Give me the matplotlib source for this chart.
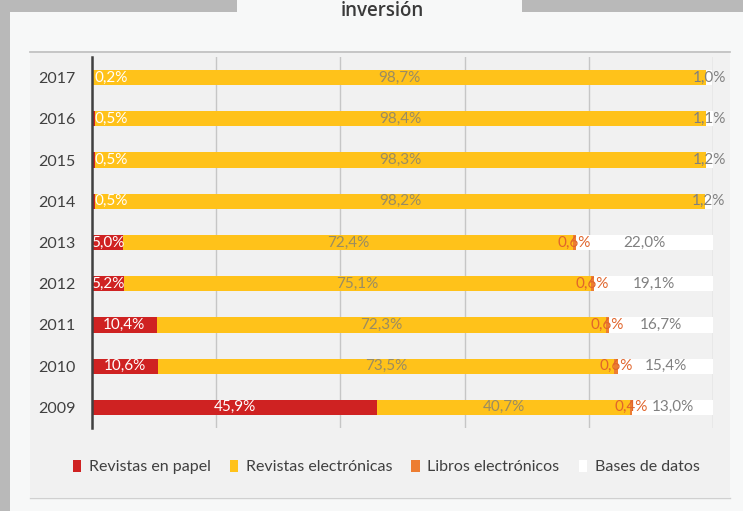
import matplotlib
matplotlib.use("Agg")
import matplotlib.pyplot as plt
from matplotlib.patches import Rectangle, Patch

# --------------------------------------------------
# Data
# --------------------------------------------------
years = ["2009", "2010", "2011", "2012", "2013", "2014", "2015", "2016", "2017"]
papel = [45.9, 10.6, 10.4, 5.2, 5.0, 0.5, 0.5, 0.5, 0.2]
revistas_elec = [40.7, 73.5, 72.3, 75.1, 72.4, 98.2, 98.3, 98.4, 98.7]
libros_elec = [0.4, 0.6, 0.6, 0.6, 0.6, 0.0, 0.0, 0.0, 0.0]
bases = [13.0, 15.4, 16.7, 19.1, 22.0, 1.2, 1.2, 1.1, 1.0]

series_names = ["Revistas en papel", "Revistas electrónicas",
                "Libros electrónicos", "Bases de datos"]
colors = ["#cf2222", "#ffc21a", "#ed7d31", "#ffffff"]
label_colors = ["#ffffff", "#9a8c62", "#e0652c", "#808080"]

plt.rcParams["font.family"] = ["Lato", "DejaVu Sans"]

W, H = 743, 511
fig = plt.figure(figsize=(W / 100, H / 100), dpi=100)
fig.patch.set_facecolor("#b9b9b9")


def px_rect(x0, y0, x1, y1, **kw):
    # rectangle in pixel coords (top-left origin)
    return Rectangle((x0 / W, 1 - y1 / H), (x1 - x0) / W, (y1 - y0) / H,
                     transform=fig.transFigure, **kw)


# panel, title tab and chart box
fig.patches.append(px_rect(10, 12, W, H, facecolor="#f7f8f8", edgecolor="none", zorder=-3))
fig.patches.append(px_rect(237, 0, 522, 14, facecolor="#f7f8f8", edgecolor="none", zorder=-3))
fig.patches.append(px_rect(30, 53, 730, 497, facecolor="#f1f1f1", edgecolor="none", zorder=-2))
fig.add_artist(plt.Line2D([30 / W, 730 / W], [1 - 52.5 / H] * 2, color="#bdbdbd", lw=1.2, zorder=-1))
fig.add_artist(plt.Line2D([30 / W, 730 / W], [1 - 497.5 / H] * 2, color="#d0d0d0", lw=1.0, zorder=-1))

fig.text(382 / W, 1 - 0.5 / H, "inversión", ha="center", va="top",
         fontsize=13.5, fontweight="semibold", color="#3a3a3a",
         family=["Open Sans", "DejaVu Sans"])

# --------------------------------------------------
# Bars
# --------------------------------------------------
ax = fig.add_axes([92 / W, 1 - 428 / H, (713 - 92) / W, (428 - 57) / H])
ax.set_facecolor("none")
ax.set_zorder(2)

y = list(range(len(years)))
left = [0.0] * len(years)
data = [papel, revistas_elec, libros_elec, bases]
for vals, name, col, lcol in zip(data, series_names, colors, label_colors):
    ax.barh(y, vals, left=left, height=0.37, color=col, label=name, zorder=2)
    for i, v in enumerate(vals):
        if v <= 0:
            continue
        txt = f"{v:.1f}%".replace(".", ",")
        if v < 1 and name == "Revistas en papel":
            ax.text(left[i] + 0.4, i, txt, ha="left", va="center",
                    color=lcol, fontsize=11, zorder=3)
        else:
            ax.text(left[i] + v / 2, i, txt, ha="center", va="center",
                    color=lcol, fontsize=11, zorder=3)
    left = [a + b for a, b in zip(left, vals)]

ax.set_xlim(0, 100)
ax.set_ylim(-0.5, 8.5)
ax.set_xticks([0, 20, 40, 60, 80, 100])
ax.set_xticklabels([])
ax.xaxis.grid(True, color="#c6c6c6", lw=1.0, zorder=0)
ax.set_axisbelow(True)
ax.tick_params(axis="x", length=0)
ax.set_yticks(y)
ax.set_yticklabels(years, fontsize=11.5, color="#404040")
ax.tick_params(axis="y", length=0, pad=12)
for s in ["top", "right", "bottom"]:
    ax.spines[s].set_visible(False)
ax.spines["left"].set_color("#404040")
ax.spines["left"].set_linewidth(1.8)
ax.spines["left"].set_zorder(4)

# --------------------------------------------------
# Legend
# --------------------------------------------------
handles = [Patch(facecolor=c, edgecolor="none", label=n) for c, n in zip(colors, series_names)]
fig.legend(handles=handles, loc="center", bbox_to_anchor=(386 / W, 1 - 467 / H),
           ncol=4, frameon=False, fontsize=11.5, handlelength=0.55, handleheight=0.85,
           handletextpad=0.45, columnspacing=1.2, labelcolor="#404040")

fig.savefig("out.png", dpi=100, facecolor=fig.get_facecolor())
